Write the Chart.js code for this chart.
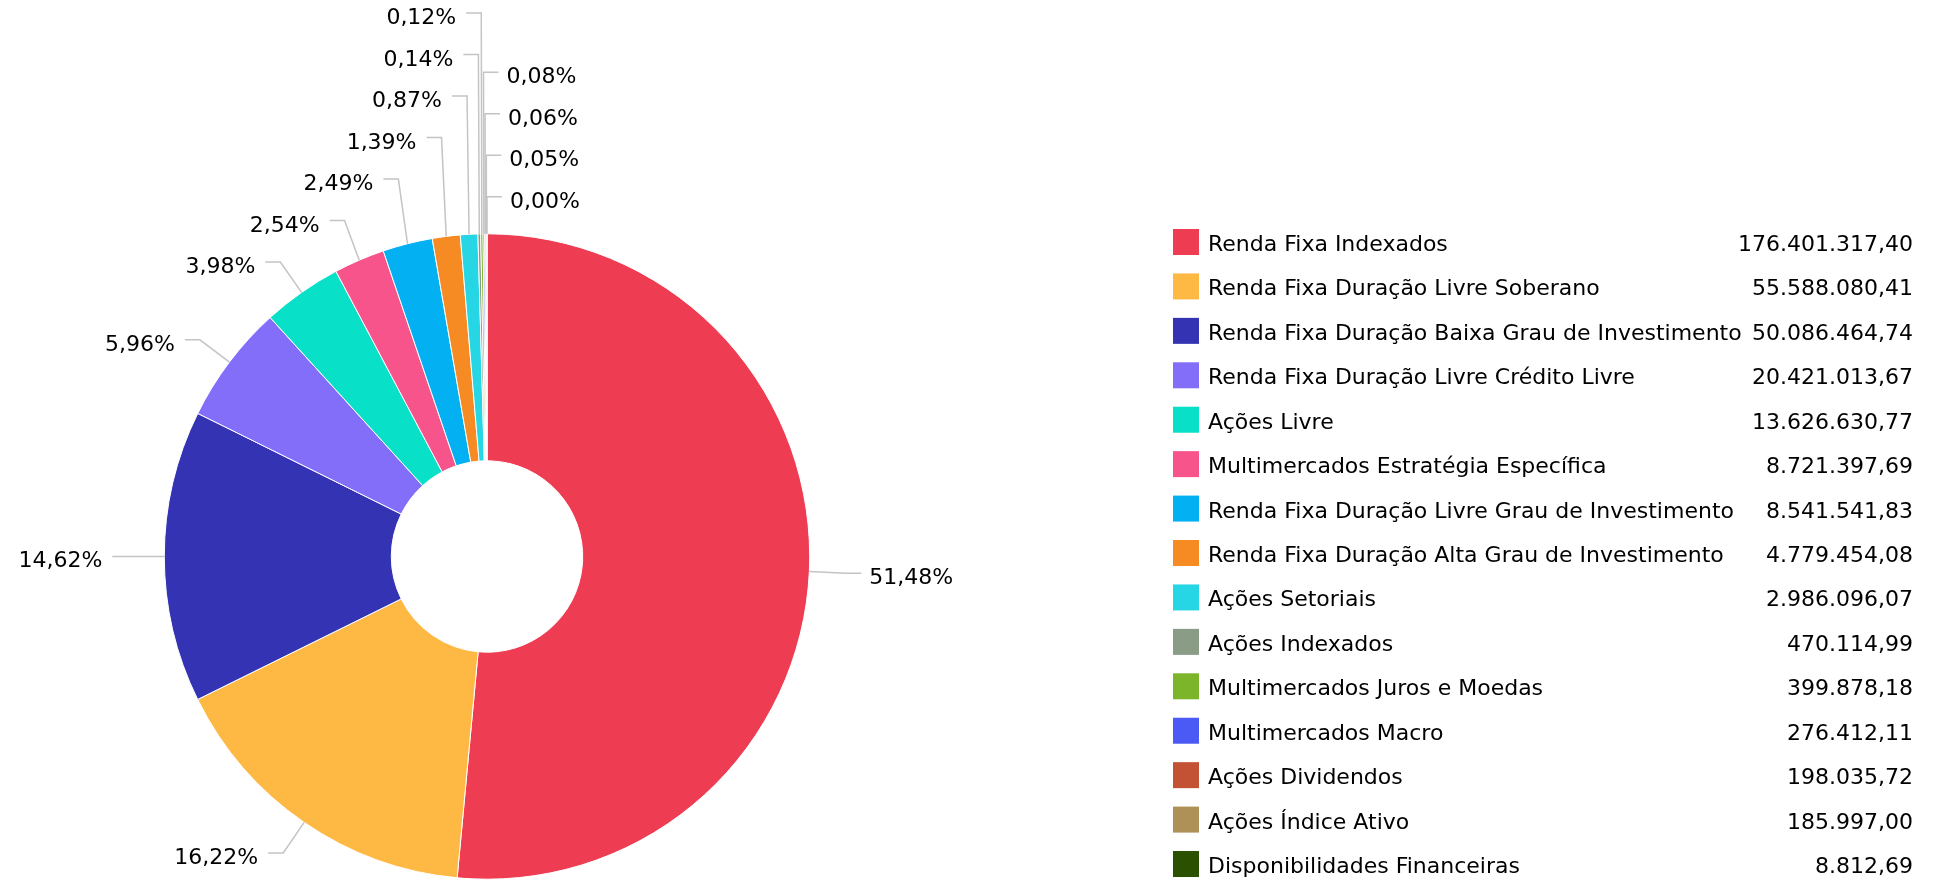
<!DOCTYPE html>
<html>
<head>
<meta charset="utf-8">
<script src="https://cdn.jsdelivr.net/npm/chart.js@4/dist/chart.umd.min.js"></script>
<style>
  html, body { margin: 0; padding: 0; background: #ffffff; }
  #wrap { position: relative; width: 1939px; height: 882px; }
</style>
</head>
<body>
<div id="wrap"><canvas id="c"></canvas></div>
<script>
// ---------- DATA ----------
const categories = [
  "Renda Fixa Indexados",
  "Renda Fixa Duração Livre Soberano",
  "Renda Fixa Duração Baixa Grau de Investimento",
  "Renda Fixa Duração Livre Crédito Livre",
  "Ações Livre",
  "Multimercados Estratégia Específica",
  "Renda Fixa Duração Livre Grau de Investimento",
  "Renda Fixa Duração Alta Grau de Investimento",
  "Ações Setoriais",
  "Ações Indexados",
  "Multimercados Juros e Moedas",
  "Multimercados Macro",
  "Ações Dividendos",
  "Ações Índice Ativo",
  "Disponibilidades Financeiras"
];
const values = [
  176401317.40, 55588080.41, 50086464.74, 20421013.67, 13626630.77,
  8721397.69, 8541541.83, 4779454.08, 2986096.07, 470114.99,
  399878.18, 276412.11, 198035.72, 185997.00, 8812.69
];
const colors = [
  "#ee3d53", "#feb945", "#3333b3", "#836efa", "#08e0c7",
  "#f7548b", "#03b1f2", "#f68b23", "#26d6e5", "#8a9c86",
  "#7cb42a", "#4c5af5", "#c25233", "#ae9157", "#2b5000"
];

// ---------- STYLE / LAYOUT ----------
const FONT = '22px "DejaVu Sans", Verdana, sans-serif';
const TEXT_COLOR = '#000000';
const CONNECTOR_COLOR = '#c4c4c4';
const LABEL_DIST = 37;      // distance beyond the outer radius for the label bend
const LABEL_SPACING = 41.5; // minimal vertical gap between labels
const HORIZ_SEG = 15;       // horizontal end of the connector
const TOP_SWAP_DEG = 0.7;   // slices this close left of 12 o'clock are labelled on the right
const LEGEND = { x: 1173, top: 242, step: 44.43, box: 26, textX: 1208, valueRight: 1913 };

function pct(f) { return (f * 100).toFixed(2).replace('.', ',') + '%'; }
function fmtBR(v) {
  const parts = v.toFixed(2).split('.');
  return parts[0].replace(/\B(?=(\d{3})+(?!\d))/g, '.') + ',' + parts[1];
}

const pieLabels = {
  id: 'pieLabels',
  afterDatasetsDraw(chart) {
    const meta = chart.getDatasetMeta(0);
    const ctx = chart.ctx;
    const total = values.reduce((a, b) => a + b, 0);
    const items = meta.data.map((arc, i) => {
      const p = arc.getProps(['x', 'y', 'startAngle', 'endAngle', 'outerRadius'], true);
      const mid = (p.startAngle + p.endAngle) / 2;
      let deg = ((mid + Math.PI / 2) * 180 / Math.PI) % 360;
      if (deg < 0) deg += 360;
      const rad = deg * Math.PI / 180;
      const R = p.outerRadius + LABEL_DIST;
      return {
        i, deg,
        right: deg < 180 || deg > 360 - TOP_SWAP_DEG,
        tx: p.x + p.outerRadius * Math.sin(rad),
        ty: p.y - p.outerRadius * Math.cos(rad),
        breakX: p.x + R * Math.sin(rad),
        y: p.y - R * Math.cos(rad),
        text: pct(values[i] / total)
      };
    });
    const left = items.filter(d => !d.right).sort((a, b) => b.deg - a.deg);
    const right = items.filter(d => d.right).sort((a, b) => {
      const ka = a.deg > 180 ? a.deg - 360 : a.deg;
      const kb = b.deg > 180 ? b.deg - 360 : b.deg;
      return ka - kb;
    });
    [left, right].forEach(arr => {
      for (let k = arr.length - 2; k >= 0; k--) {
        arr[k].y = Math.min(arr[k].y, arr[k + 1].y - LABEL_SPACING);
      }
      if (arr.length && arr[0].y < 12) {
        arr[0].y = 12;
        for (let k = 1; k < arr.length; k++) arr[k].y = Math.max(arr[k].y, arr[k - 1].y + LABEL_SPACING);
      }
    });
    ctx.save();
    ctx.lineWidth = 1.5;
    ctx.strokeStyle = CONNECTOR_COLOR;
    ctx.font = FONT;
    ctx.fillStyle = TEXT_COLOR;
    ctx.textBaseline = 'alphabetic';
    items.forEach(d => {
      const dir = d.right ? 1 : -1;
      const endX = d.breakX + dir * HORIZ_SEG;
      ctx.beginPath();
      ctx.moveTo(d.tx, d.ty);
      ctx.lineTo(d.breakX, d.y);
      ctx.lineTo(endX, d.y);
      ctx.stroke();
      ctx.textAlign = d.right ? 'left' : 'right';
      ctx.fillText(d.text, endX + (d.right ? 8 : -10), d.y + 11);
    });
    ctx.restore();
  }
};

const legendPlugin = {
  id: 'sideLegend',
  afterDraw(chart) {
    const ctx = chart.ctx;
    ctx.save();
    ctx.font = FONT;
    ctx.textBaseline = 'alphabetic';
    categories.forEach((name, i) => {
      const cy = LEGEND.top + i * LEGEND.step;
      ctx.fillStyle = colors[i];
      ctx.fillRect(LEGEND.x, cy - LEGEND.box / 2, LEGEND.box, LEGEND.box);
      ctx.fillStyle = TEXT_COLOR;
      ctx.textAlign = 'left';
      ctx.fillText(name, LEGEND.textX, cy + 9);
      ctx.textAlign = 'right';
      ctx.fillText(fmtBR(values[i]), LEGEND.valueRight, cy + 9);
    });
    ctx.restore();
  }
};

new Chart(document.getElementById('c'), {
  type: 'doughnut',
  data: {
    labels: categories,
    datasets: [{
      data: values,
      backgroundColor: colors,
      borderColor: '#ffffff',
      borderWidth: 1,
      hoverOffset: 0
    }]
  },
  options: {
    responsive: true,
    maintainAspectRatio: false,
    animation: false,
    events: [],
    cutout: '29.66%',
    radius: 322.7,
    layout: { padding: { left: 164, right: 1129, top: 234, bottom: 3 } },
    plugins: {
      legend: { display: false },
      tooltip: { enabled: false }
    }
  },
  plugins: [pieLabels, legendPlugin]
});
</script>
</body>
</html>
